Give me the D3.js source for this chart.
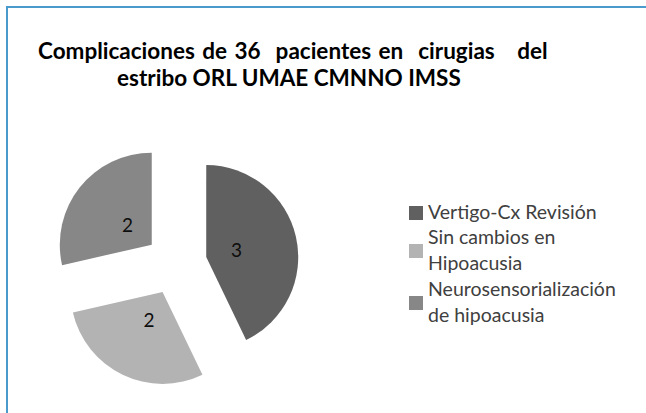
<!DOCTYPE html>
<html>
<head>
<meta charset="utf-8">
<script src="https://cdn.jsdelivr.net/npm/d3@7"></script>
<style>
  body { margin: 0; background: #fff; }
  svg { display: block; font-family: Lato, "Open Sans", sans-serif; }
</style>
</head>
<body>
<svg width="646" height="413"></svg>
<script>
var titleLines = ["Complicaciones de 36  pacientes en  cirugias   del", "estribo ORL UMAE CMNNO IMSS"];
var categories = ["Vertigo-Cx Revisión", "Sin cambios en Hipoacusia", "Neurosensorialización de hipoacusia"];
var legendLines = [["Vertigo-Cx Revisión"], ["Sin cambios en", "Hipoacusia"], ["Neurosensorialización", "de hipoacusia"]];
var values = [3, 2, 2];
var colors = ["#606060", "#b3b3b3", "#878787"];

var svg = d3.select("svg");

// frame (only top + left edges show)
svg.append("path")
  .attr("d", "M7,413 V7 H646")
  .attr("fill", "none")
  .attr("stroke", "#4a9bcb")
  .attr("stroke-width", 2);

// title
svg.append("text")
  .attr("x", 38).attr("y", 59)
  .style("white-space", "pre")
  .style("font-weight", "bold")
  .style("font-size", "22.5px")
  .style("word-spacing", "2px")
  .attr("fill", "#000")
  .text(titleLines[0]);
svg.append("text")
  .attr("x", 117).attr("y", 86)
  .style("white-space", "pre")
  .style("font-weight", "bold")
  .style("font-size", "22.5px")
  .attr("fill", "#000")
  .text(titleLines[1]);

// exploded pie
var cx = 176, cy = 264, radius = 92, explode = 31;
var pie = d3.pie().sort(null).startAngle(0).endAngle(2 * Math.PI);
var arc = d3.arc().innerRadius(0).outerRadius(radius);
var arcs = pie(values);

function offset(d, dist) {
  var a = (d.startAngle + d.endAngle) / 2;
  return [Math.sin(a) * dist, -Math.cos(a) * dist];
}

var slices = svg.append("g")
  .attr("transform", "translate(" + cx + "," + cy + ")")
  .selectAll("g")
  .data(arcs)
  .enter()
  .append("g")
  .attr("transform", function(d) { var o = offset(d, explode); return "translate(" + o[0] + "," + o[1] + ")"; });

slices.append("path")
  .attr("d", arc)
  .style("fill", function(d, i) { return colors[i]; });

slices.append("text")
  .attr("transform", function(d) { var o = offset(d, 31); return "translate(" + o[0] + "," + o[1] + ")"; })
  .attr("text-anchor", "middle")
  .attr("dy", "0.35em")
  .style("font-size", "19px")
  .attr("fill", "#0d0d0d")
  .text(function(d) { return d.value; });

// legend
var legendY = [213, 251, 303];
var legend = svg.append("g")
  .selectAll("g")
  .data(categories)
  .enter()
  .append("g")
  .attr("transform", function(d, i) { return "translate(409," + legendY[i] + ")"; });

legend.append("rect")
  .attr("x", 0).attr("y", -7)
  .attr("width", 14).attr("height", 14)
  .style("fill", function(d, i) { return colors[i]; });

legend.append("text")
  .style("font-size", "19.5px")
  .attr("fill", "#404040")
  .each(function(d, i) {
    var lines = legendLines[i];
    var t = d3.select(this);
    lines.forEach(function(l, j) {
      t.append("tspan")
        .attr("x", 19)
        .attr("y", (j - (lines.length - 1) / 2) * 26 + 6)
        .text(l);
    });
  });
</script>
</body>
</html>
